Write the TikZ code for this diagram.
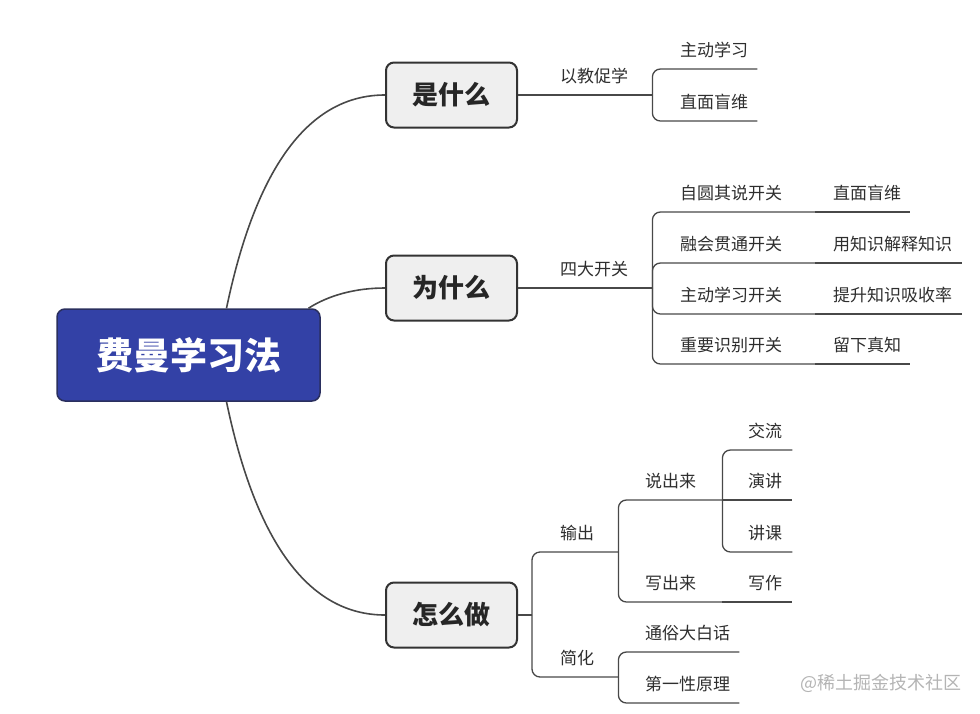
\documentclass[tikz,border=0pt]{standalone}
\usepackage{fontspec}
\setmainfont{Noto Sans CJK SC}
\usepackage{tikz}
\usetikzlibrary{positioning, calc}
\definecolor{rootblue}{HTML}{3341A6}
\definecolor{rootedge}{HTML}{2A2F5E}
\definecolor{boxgray}{HTML}{EFEFEF}
\definecolor{boxedge}{HTML}{333333}
\definecolor{linegray}{HTML}{484848}
\definecolor{textgray}{HTML}{2E2E2E}
\definecolor{markgray}{HTML}{B4B4B4}

\begin{document}
\begin{tikzpicture}[
    x=1pt, y=-1pt,
    % Node styles
    root/.style={rectangle, draw=rootedge, line width=1.5pt, rounded corners=8pt, fill=rootblue, text=white, minimum width=263pt, minimum height=92pt, font=\fontsize{37}{40}\selectfont\bfseries},
    topbox/.style={rectangle, draw=boxedge, line width=2pt, rounded corners=8pt, fill=boxgray, text=black!85, minimum width=131pt, minimum height=65pt, font=\fontsize{26}{30}\selectfont\bfseries},
    topic/.style={anchor=south west, inner sep=0pt, minimum height=36pt, text height=13pt, text depth=2pt, text width=#1, align=left, text=textgray, font=\fontsize{17}{20}\selectfont},
    branch/.style={draw=linegray, line width=1.3pt, rounded corners=8pt},
    curve/.style={draw=linegray, line width=1.6pt},
]
\useasboundingbox (0,0) rectangle (980,713);

% ============================================================================
% CENTRE AND MAIN TOPICS
% ============================================================================
\node[root] (feynman) at (188.5,355) {费曼学习法};

\node[topbox] (shi) at (451.5,95) {是什么};
\node[topbox] (wei) at (451.5,288) {为什么};
\node[topbox] (zen) at (451.5,615) {怎么做};

% Curved links from the centre
\draw[curve] ([xshift=38pt]feynman.north) .. controls (256,167) and (309,95) .. (shi.west);
\draw[curve] ([xshift=120pt]feynman.north) .. controls (329,295) and (356,288) .. (wei.west);
\draw[curve] ([xshift=38pt]feynman.south) .. controls (256,543) and (309,615) .. (zen.west);

% ============================================================================
% 是什么
% ============================================================================
\node[topic=92pt] (yijiao) at (560,95) {以教促学};
\node[topic=77pt] (zhudong) at (680,69) {主动学习};
\node[topic=77pt] (zhimian) at (680,121) {直面盲维};

\draw[branch] (shi.east) -- (yijiao.south east);
\foreach \n in {zhudong, zhimian} {
    \draw[branch] (yijiao.south east) |- (\n.south east);
}

% ============================================================================
% 为什么
% ============================================================================
\node[topic=92pt] (sida) at (560,288) {四大开关};

% Switches
\node[topic=135pt] (ziyuan) at (680,212) {自圆其说开关};
\node[topic=135pt] (ronghui) at (680,263) {融会贯通开关};
\node[topic=135pt] (zhudongkg) at (680,314) {主动学习开关};
\node[topic=135pt] (zhongyao) at (680,364) {重要识别开关};

% What each switch gives
\node[topic=77pt] (mangwei) at (833,212) {直面盲维};
\node[topic=129pt] (jieshi) at (833,263) {用知识解释知识};
\node[topic=129pt] (xishou) at (833,314) {提升知识吸收率};
\node[topic=77pt] (zhenzhi) at (833,364) {留下真知};

\draw[branch] (wei.east) -- (sida.south east);
\foreach \n in {ziyuan, ronghui, zhudongkg, zhongyao} {
    \draw[branch] (sida.south east) |- (\n.south east);
}
\foreach \a/\b in {ziyuan/mangwei, ronghui/jieshi, zhudongkg/xishou, zhongyao/zhenzhi} {
    \draw[branch] (\a.south east) -- (\b.south east);
}

% ============================================================================
% 怎么做
% ============================================================================
\coordinate (zenfork) at (532,615);
\node[topic=58pt] (shuchu) at (560,552) {输出};
\node[topic=58pt] (jianhua) at (560,677) {简化};

% Output
\node[topic=77pt] (shuo) at (645,500) {说出来};
\node[topic=77pt] (xie) at (645,602) {写出来};
\node[topic=44pt] (jiaoliu) at (748,450) {交流};
\node[topic=44pt] (yanjiang) at (748,500) {演讲};
\node[topic=44pt] (jiangke) at (748,552) {讲课};
\node[topic=44pt] (xiezuo) at (748,602) {写作};

% Simplify
\node[topic=94pt] (tongsu) at (645,652) {通俗大白话};
\node[topic=94pt] (diyi) at (645,703) {第一性原理};

\draw[branch] (zen.east) -- (zenfork);
\foreach \n in {shuchu, jianhua} {
    \draw[branch] (zenfork) |- (\n.south east);
}
\foreach \n in {shuo, xie} {
    \draw[branch] (shuchu.south east) |- (\n.south east);
}
\foreach \n in {jiaoliu, jiangke} {
    \draw[branch] (shuo.south east) |- (\n.south east);
}
\draw[branch] (shuo.south east) -- (yanjiang.south east);
\draw[branch] (xie.south east) -- (xiezuo.south east);
\foreach \n in {tongsu, diyi} {
    \draw[branch] (jianhua.south east) |- (\n.south east);
}

% Watermark
\node[font=\fontsize{18}{22}\selectfont, text=markgray, anchor=west] (mark) at (797,683) {@稀土掘金技术社区};

\end{tikzpicture}
\end{document}
